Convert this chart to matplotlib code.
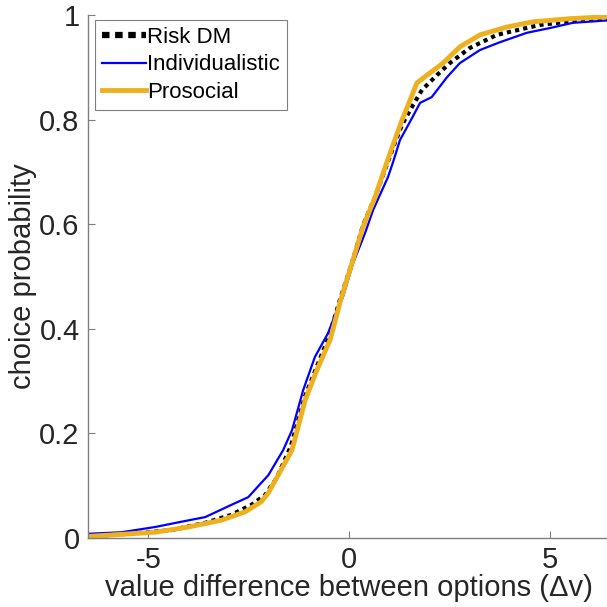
import numpy as np
import matplotlib
matplotlib.use('Agg')
import matplotlib.pyplot as plt
from matplotlib.lines import Line2D

plt.rcParams['font.family'] = ['Liberation Sans', 'DejaVu Sans']
plt.rcParams['axes.unicode_minus'] = False

# values (x = value difference, y = choice probability)
risk_x = [-6.5, -5.5, -4.43, -3.58, -2.94, -2.44, -2.09, -1.8, -1.45, -1.1, -0.8, -0.5,
          -0.2, 0.05, 0.35, 0.65, 0.9, 1.14, 1.32, 1.52, 1.82, 2.19, 2.51, 3.01, 3.68,
          4.75, 5.75, 6.5]
risk_y = [0.003, 0.008, 0.015, 0.029, 0.044, 0.063, 0.082, 0.115, 0.175, 0.27, 0.328,
          0.385, 0.462, 0.52, 0.598, 0.652, 0.705, 0.755, 0.79, 0.818, 0.857, 0.885,
          0.908, 0.937, 0.962, 0.981, 0.99, 0.995]

indiv_x = [-6.5, -5.67, -4.83, -4.18, -3.58, -2.94, -2.51, -2.19, -2.01, -1.64, -1.42,
           -1.14, -0.85, -0.52, -0.30, -0.15, 0.10, 0.40, 0.60, 0.97, 1.09, 1.27, 1.57,
           1.77, 2.06, 2.44, 2.76, 3.26, 3.76, 4.43, 5.0, 5.57, 6.5]
indiv_y = [0.008, 0.011, 0.021, 0.031, 0.040, 0.063, 0.078, 0.105, 0.12, 0.168, 0.206,
           0.283, 0.346, 0.392, 0.436, 0.461, 0.525, 0.583, 0.627, 0.690, 0.717, 0.761,
           0.803, 0.832, 0.843, 0.881, 0.908, 0.933, 0.948, 0.966, 0.975, 0.985, 0.99]

pro_x = [-6.5, -4.83, -4.0, -3.18, -2.59, -2.19, -2.01, -1.42, -1.09, -0.80, -0.47,
         -0.2, 0.02, 0.10, 0.35, 0.65, 0.90, 1.14, 1.32, 1.52, 1.69, 2.01, 2.34, 2.76,
         3.26, 3.93, 4.58, 5.5, 6.5]
pro_y = [0.003, 0.011, 0.021, 0.034, 0.050, 0.069, 0.086, 0.168, 0.264, 0.321, 0.379,
         0.457, 0.512, 0.532, 0.595, 0.652, 0.709, 0.761, 0.799, 0.837, 0.870, 0.889,
         0.908, 0.939, 0.962, 0.977, 0.987, 0.993, 0.997]

labels = ['Risk DM', 'Individualistic', 'Prosocial']
xticks = [-5, 0, 5]
yticks = [0, 0.2, 0.4, 0.6, 0.8, 1]
ytick_labels = ['0', '0.2', '0.4', '0.6', '0.8', '1']

fig = plt.figure(figsize=(6.07, 6.07), dpi=100)
ax = fig.add_axes([88 / 607, 69 / 607, 522 / 607, 523 / 607])

ax.plot(risk_x, risk_y, color='black', linewidth=3, linestyle=(0, (1, 1)),
        dash_capstyle='butt')
ax.plot(indiv_x, indiv_y, color='#0000FF', linewidth=1.6)
ax.plot(pro_x, pro_y, color='#EDB120', linewidth=3.5)

ax.set_xlim(-6.5, 6.5)
ax.set_ylim(0, 1)
ax.set_xticks(xticks)
ax.set_yticks(yticks)
ax.set_yticklabels(ytick_labels)

for side in ['top', 'right']:
    ax.spines[side].set_visible(False)
for side in ['left', 'bottom']:
    ax.spines[side].set_color('#7f7f7f')
    ax.spines[side].set_linewidth(1.0)
ax.tick_params(direction='in', length=5, width=0.8, color='#7f7f7f',
               labelsize=21, labelcolor='#262626', pad=6)

ax.set_xlabel('value difference between options (\u0394v)', fontsize=21,
              color='#262626', labelpad=0)
ax.set_ylabel('choice probability', fontsize=21, color='#262626', labelpad=2)

# legend handles (the dotted one drawn with bigger squares, as in the reference)
handles = [
    Line2D([], [], color='black', linewidth=4.5, linestyle=(0, (1.2, 0.9)),
           dash_capstyle='butt'),
    Line2D([], [], color='#0000FF', linewidth=1.6),
    Line2D([], [], color='#EDB120', linewidth=3.5),
]
leg = ax.legend(handles, labels, loc='upper left',
                bbox_to_anchor=(7 / 522, 1 - 5 / 523),
                fontsize=16, handlelength=2.0, handletextpad=0.05,
                borderaxespad=0, borderpad=0.3, labelspacing=0.3,
                fancybox=False, framealpha=1)
leg.get_frame().set_edgecolor('#7f7f7f')
leg.get_frame().set_linewidth(0.8)

fig.savefig('out.png', dpi=100)
